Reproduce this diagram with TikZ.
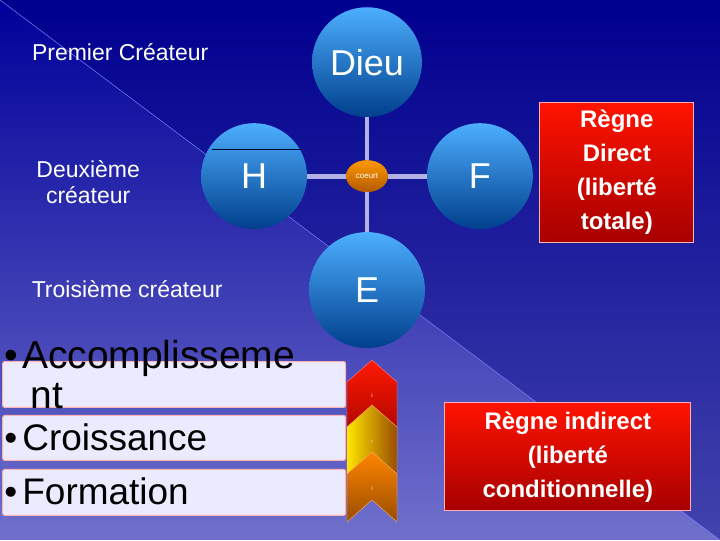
\documentclass[tikz,border=0pt]{standalone}
\usepackage{fontspec}
\setmainfont{Liberation Sans}
\usetikzlibrary{shapes.geometric}
\begin{document}
\begin{tikzpicture}[x=1pt,y=-1pt,
  circ/.style={circle,minimum size=#1,inner sep=0,text=white,font=\fontsize{36}{36}\selectfont,top color=cyan!55!blue!70!white,bottom color=blue!55!cyan!55!black},
  conn/.style={line width=5pt,draw=blue!25!white!80!gray},
  lab/.style={text=white,font=\fontsize{23}{26}\selectfont,align=center},
  lbox/.style={draw=red!30!white,line width=1pt,fill=blue!8!white,rounded corners=2pt,minimum width=343,anchor=north west,inner sep=0},
  rbox/.style={draw=red!30!white,line width=1pt,bottom color=red!65!black,top color=red!85!orange,text=white,font=\bfseries\fontsize{24}{34}\selectfont,align=center,inner sep=0}]
\shade[top color=blue!60!black,bottom color=blue!45!white!80!black] (0,0) rectangle (720,540);
\fill[blue!50!black,opacity=0.4] (0,0) -- (720,0) -- (720,540) -- cycle;
\draw[blue!50!white,line width=0.5pt] (0,0) -- (720,540);
\useasboundingbox (0,0) rectangle (720,540);
\node[circ=110] (dieu) at (367,62) {Dieu};
\node[circ=106] (h) at (254,176) {H};
\node[circ=106] (f) at (480,176) {F};
\node[circ=116] (e) at (367,290) {E};
\node[ellipse,minimum width=42,minimum height=32,inner sep=0,top color=orange!80!yellow,bottom color=orange!70!black,text=white,font=\fontsize{8}{8}\selectfont] (c) at (367,176) {coeurt};
\draw[conn] (c) -- (dieu); \draw[conn] (c) -- (h); \draw[conn] (c) -- (f); \draw[conn] (c) -- (e);
\draw[blue!20!black,line width=1pt] (212,149) -- (302,149);
\node[lab] (p1) at (120,52) {Premier Créateur};
\node[lab] (p2) at (88,182) {Deuxième\\créateur};
\node[lab] (p3) at (127,289) {Troisième créateur};
\node[rbox,minimum width=154,minimum height=140] (rd) at (617,172) {Règne\\Direct\\(liberté\\totale)};
\node[rbox,minimum width=246,minimum height=108] (ri) at (568,457) {Règne indirect\\(liberté\\conditionnelle)};
\node[lbox,minimum height=46] (b1) at (2,361) {};
\node[lbox,minimum height=45] (b2) at (2,415) {};
\node[lbox,minimum height=46] (b3) at (2,469) {};
\node[anchor=north west,font=\fontsize{39}{40}\selectfont,align=left,inner sep=0] (t1) at (4,340) {•\hspace{4pt}Accomplisseme\\\hspace{26pt}nt};
\node[anchor=west,font=\fontsize{37}{38}\selectfont,inner sep=0] (t2) at (4,437) {•\hspace{5pt}Croissance};
\node[anchor=west,font=\fontsize{37}{38}\selectfont,inner sep=0] (t3) at (4,491) {•\hspace{5pt}Formation};
\shade[draw=red!50,top color=red!80!orange,bottom color=red!60!black] (347,382) -- (372,360) -- (397,382) -- (397,452) -- (372,430) -- (347,452) -- cycle;
\shade[draw=orange!60,left color=yellow!80!orange,right color=orange!60!black] (347,427) -- (372,405) -- (397,427) -- (397,497) -- (372,475) -- (347,497) -- cycle;
\shade[draw=orange!60,top color=orange!95!yellow,bottom color=orange!60!black] (347,474) -- (372,452) -- (397,474) -- (397,522) -- (372,500) -- (347,522) -- cycle;
\node[text=white,font=\tiny] (k1) at (372,396) {I};
\node[text=white,font=\tiny] (k2) at (372,442) {I};
\node[text=white,font=\tiny] (k3) at (372,489) {I};
\end{tikzpicture}
\end{document}
